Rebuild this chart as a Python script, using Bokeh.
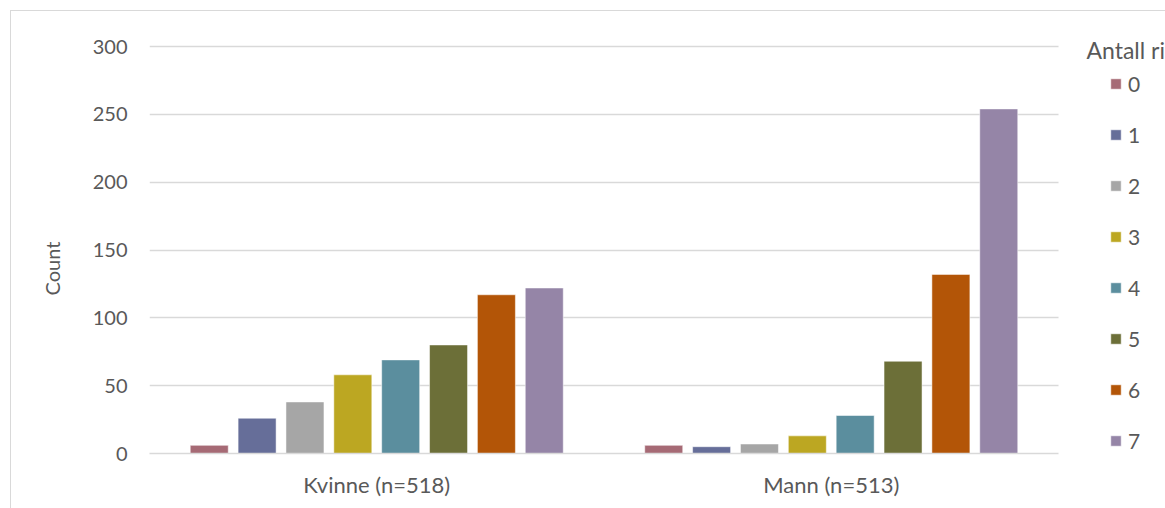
from bokeh.plotting import figure
from bokeh.models import (ColumnDataSource, Range1d, FixedTicker,
                          Legend, LegendItem, Label, Title)
from bokeh.transform import dodge
from bokeh.embed import file_html
from bokeh.resources import INLINE

# Respondent groups on the x axis
groups = ["Kvinne (n=518)", "Mann (n=513)"]
group_pos = [0.5, 1.5]

# Number of correct answers (series) and their counts per group
series = ["0", "1", "2", "3", "4", "5", "6", "7"]
kvinne = [6, 26, 38, 58, 69, 80, 117, 122]
mann = [6, 5, 7, 13, 28, 68, 132, 254]

colors = ["#a66a75", "#666e99", "#a6a6a6", "#bca722",
          "#5b8e9e", "#6c6f38", "#b35507", "#9585a7"]

y_ticks = [0, 50, 100, 150, 200, 250, 300]

FONT = "Lato"
TEXT = "#595959"
GRID = "#d9d9d9"

data = {"x": group_pos}
for i, s in enumerate(series):
    data["s" + s] = [kvinne[i], mann[i]]
source = ColumnDataSource(data)

W, H = 1155, 498
LEFT, BOTTOM = 138, 56
PLOT_W, PLOT_H = 909, 407         # size of the 0..2 x 0..300 data area
frame_w = W - LEFT
frame_h = H - BOTTOM
x_end = 2 * frame_w / PLOT_W      # room on the right for the legend
y_end = 300 * frame_h / PLOT_H    # room on top for the legend title

p = figure(x_range=Range1d(0, x_end), y_range=Range1d(0, y_end),
           width=W, height=H,
           output_backend="svg", toolbar_location=None,
           min_border_left=LEFT, min_border_right=0,
           min_border_top=0, min_border_bottom=BOTTOM,
           styles={"margin-left": "10px", "margin-top": "10px",
                   "border-left": "1px solid #d9d9d9",
                   "border-top": "1px solid #d9d9d9"})

p.outline_line_color = None
p.background_fill_color = "white"
p.border_fill_color = "white"

step = 0.1053
bar_w = 0.0836
renderers = []
for i, s in enumerate(series):
    r = p.vbar(x=dodge("x", (i - 3.5) * step), top="s" + s, width=bar_w,
               source=source, fill_color=colors[i], line_color="white",
               line_alpha=0.5, line_width=1)
    renderers.append(r)

# Y axis
p.yaxis.ticker = FixedTicker(ticks=y_ticks)
p.yaxis.axis_line_color = None
p.yaxis.major_tick_line_color = None
p.yaxis.minor_tick_line_color = None
p.yaxis.major_tick_out = 0
p.yaxis.major_label_standoff = 22
p.yaxis.major_label_text_font = FONT
p.yaxis.major_label_text_font_size = "20px"
p.yaxis.major_label_text_color = TEXT

# Y axis title, placed beside the 0..300 span
p.add_layout(Title(text="Count", align="left", offset=158, standoff=52,
                   text_font=FONT, text_font_size="20px",
                   text_font_style="normal", text_color=TEXT), "left")

# X axis: one label per group, line only under the groups
p.xaxis.ticker = FixedTicker(ticks=group_pos)
p.xaxis.major_label_overrides = {pos: g for pos, g in zip(group_pos, groups)}
p.xaxis.bounds = (0, 2)
p.xaxis.axis_line_color = GRID
p.xaxis.axis_line_width = 1.5
p.xaxis.major_tick_line_color = None
p.xaxis.minor_tick_line_color = None
p.xaxis.major_tick_out = 0
p.xaxis.major_label_standoff = 17
p.xaxis.major_label_text_font = FONT
p.xaxis.major_label_text_font_size = "22px"
p.xaxis.major_label_text_color = TEXT

p.xgrid.grid_line_color = None
p.ygrid.grid_line_color = GRID
p.ygrid.grid_line_width = 1.5
p.ygrid.cross_bounds = (0, 2)

# Legend title
p.add_layout(Label(x=937, y=404, x_units="screen", y_units="screen",
                   text="Antall riktige", text_align="left",
                   text_baseline="alphabetic", text_font=FONT,
                   text_font_size="23px", text_color=TEXT))

legend = Legend(items=[LegendItem(label=s, renderers=[r])
                       for s, r in zip(series, renderers)],
                location=(960, 0), orientation="vertical",
                glyph_width=13, glyph_height=13, label_standoff=6,
                label_height=24, spacing=26, padding=0, margin=0,
                border_line_color=None, background_fill_alpha=0,
                label_text_font=FONT, label_text_font_size="21px",
                label_text_color=TEXT)
p.add_layout(legend)

open("out.html", "w").write(file_html(p, INLINE))
